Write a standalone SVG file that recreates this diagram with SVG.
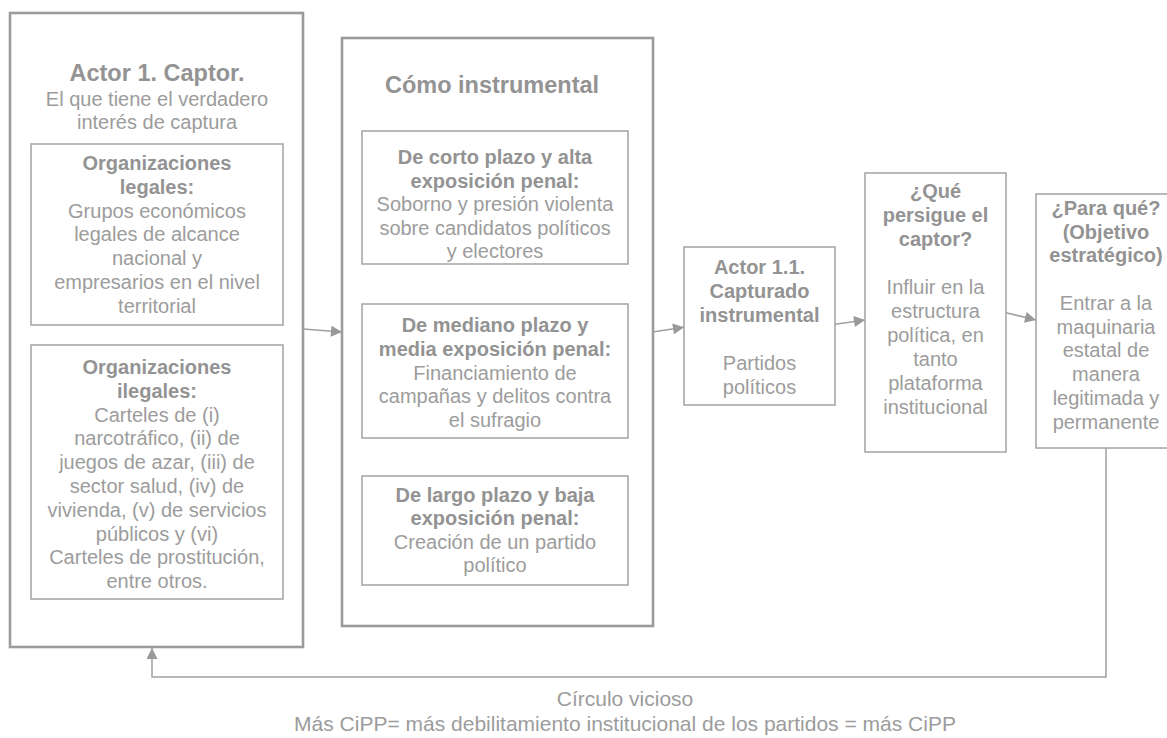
<svg xmlns="http://www.w3.org/2000/svg" width="1167" height="738" viewBox="0 0 1167 738">
<defs>
<style>
.outer{fill:none;stroke:#9b9b9b;stroke-width:2.6}
.box{fill:#ffffff;stroke:#a3a3a3;stroke-width:1.5}
.t{font-family:"Liberation Sans",Arial,sans-serif;font-size:20px;fill:#9c9c9c;text-anchor:middle}
.b{font-weight:bold;fill:#939393}
.h{font-family:"Liberation Sans",Arial,sans-serif;font-size:23.5px;font-weight:bold;fill:#939393;text-anchor:middle}
.cap{font-size:21px}
.con{fill:none;stroke:#a0a0a0;stroke-width:1.5}
</style>
<marker id="arr" viewBox="0 0 10 10" refX="10" refY="5" markerWidth="12" markerHeight="11" markerUnits="userSpaceOnUse" orient="auto">
<path d="M0,0 L10,5 L0,10 z" fill="#999999"/>
</marker>
</defs>
<rect width="1167" height="738" fill="#ffffff"/>

<g id="actor1">
<rect class="outer" x="10" y="13" width="293" height="634"/>
<text class="h" x="157" y="81">Actor 1. Captor.</text>
<text class="t" x="157" y="106">El que tiene el verdadero</text>
<text class="t" x="157" y="129">interés de captura</text>
</g>

<g id="org-legales">
<rect class="box" x="31" y="144" width="252" height="181"/>
<text class="t" x="157"><tspan class="b" x="157" y="170">Organizaciones</tspan><tspan class="b" x="157" y="193.8">legales:</tspan><tspan x="157" y="217.6">Grupos económicos</tspan><tspan x="157" y="241.4">legales de alcance</tspan><tspan x="157" y="265.2">nacional y</tspan><tspan x="157" y="289">empresarios en el nivel</tspan><tspan x="157" y="312.8">territorial</tspan></text>
</g>

<g id="org-ilegales">
<rect class="box" x="31" y="345" width="252" height="254"/>
<text class="t" x="157"><tspan class="b" x="157" y="374">Organizaciones</tspan><tspan class="b" x="157" y="397.8">ilegales:</tspan><tspan x="157" y="421.6">Carteles de (i)</tspan><tspan x="157" y="445.4">narcotráfico, (ii) de</tspan><tspan x="157" y="469.2">juegos de azar, (iii) de</tspan><tspan x="157" y="493">sector salud, (iv) de</tspan><tspan x="157" y="516.8">vivienda, (v) de servicios</tspan><tspan x="157" y="540.6">públicos y (vi)</tspan><tspan x="157" y="564.4">Carteles de prostitución,</tspan><tspan x="157" y="588.2">entre otros.</tspan></text>
</g>

<g id="como">
<rect class="outer" x="342" y="38" width="311" height="588"/>
<text class="h" x="492" y="92.7">Cómo instrumental</text>
</g>

<g id="corto">
<rect class="box" x="362" y="131" width="266" height="133"/>
<text class="t" x="495"><tspan class="b" x="495" y="164">De corto plazo y alta</tspan><tspan class="b" x="495" y="187.5">exposición penal:</tspan><tspan x="495" y="211">Soborno y presión violenta</tspan><tspan x="495" y="234.5">sobre candidatos políticos</tspan><tspan x="495" y="258">y electores</tspan></text>
</g>

<g id="mediano">
<rect class="box" x="362" y="304" width="266" height="134"/>
<text class="t" x="495"><tspan class="b" x="495" y="332">De mediano plazo y</tspan><tspan class="b" x="495" y="355.8">media exposición penal:</tspan><tspan x="495" y="379.6">Financiamiento de</tspan><tspan x="495" y="403.4">campañas y delitos contra</tspan><tspan x="495" y="427.2">el sufragio</tspan></text>
</g>

<g id="largo">
<rect class="box" x="362" y="476" width="266" height="109"/>
<text class="t" x="495"><tspan class="b" x="495" y="501.5">De largo plazo y baja</tspan><tspan class="b" x="495" y="525">exposición penal:</tspan><tspan x="495" y="548.5">Creación de un partido</tspan><tspan x="495" y="572">político</tspan></text>
</g>

<g id="actor11">
<rect class="box" x="684" y="247" width="151" height="158"/>
<text class="t" x="759.5"><tspan class="b" x="759.5" y="274">Actor 1.1.</tspan><tspan class="b" x="759.5" y="298">Capturado</tspan><tspan class="b" x="759.5" y="322">instrumental</tspan><tspan x="759.5" y="370">Partidos</tspan><tspan x="759.5" y="394">políticos</tspan></text>
</g>

<g id="que">
<rect class="box" x="865" y="173" width="141" height="279"/>
<text class="t" x="935.5"><tspan class="b" x="935.5" y="198">¿Qué</tspan><tspan class="b" x="935.5" y="222">persigue el</tspan><tspan class="b" x="935.5" y="246">captor?</tspan><tspan x="935.5" y="294">Influir en la</tspan><tspan x="935.5" y="318">estructura</tspan><tspan x="935.5" y="342">política, en</tspan><tspan x="935.5" y="366">tanto</tspan><tspan x="935.5" y="390">plataforma</tspan><tspan x="935.5" y="414">institucional</tspan></text>
</g>

<g id="para">
<rect class="box" x="1036" y="194" width="140" height="254"/>
<text class="t" x="1106"><tspan class="b" x="1106" y="215">¿Para qué?</tspan><tspan class="b" x="1106" y="238.7">(Objetivo</tspan><tspan class="b" x="1106" y="262.4">estratégico)</tspan><tspan x="1106" y="310">Entrar a la</tspan><tspan x="1106" y="333.7">maquinaria</tspan><tspan x="1106" y="357.4">estatal de</tspan><tspan x="1106" y="381">manera</tspan><tspan x="1106" y="404.8">legitimada y</tspan><tspan x="1106" y="428.5">permanente</tspan></text>
</g>

<g id="connectors">
<line class="con" x1="303" y1="329" x2="342" y2="332" marker-end="url(#arr)"/>
<line class="con" x1="654" y1="331.7" x2="684" y2="327.3" marker-end="url(#arr)"/>
<line class="con" x1="835" y1="324.3" x2="865" y2="320" marker-end="url(#arr)"/>
<line class="con" x1="1006" y1="312.7" x2="1036" y2="320" marker-end="url(#arr)"/>
<polyline class="con" points="1106,448 1106,677 152,677 152,648" marker-end="url(#arr)"/>
</g>

<g id="caption">
<text class="t cap" x="625" y="706">Círculo vicioso</text>
<text class="t cap" x="625" y="731">Más CiPP= más debilitamiento institucional de los partidos = más CiPP</text>
</g>
</svg>
